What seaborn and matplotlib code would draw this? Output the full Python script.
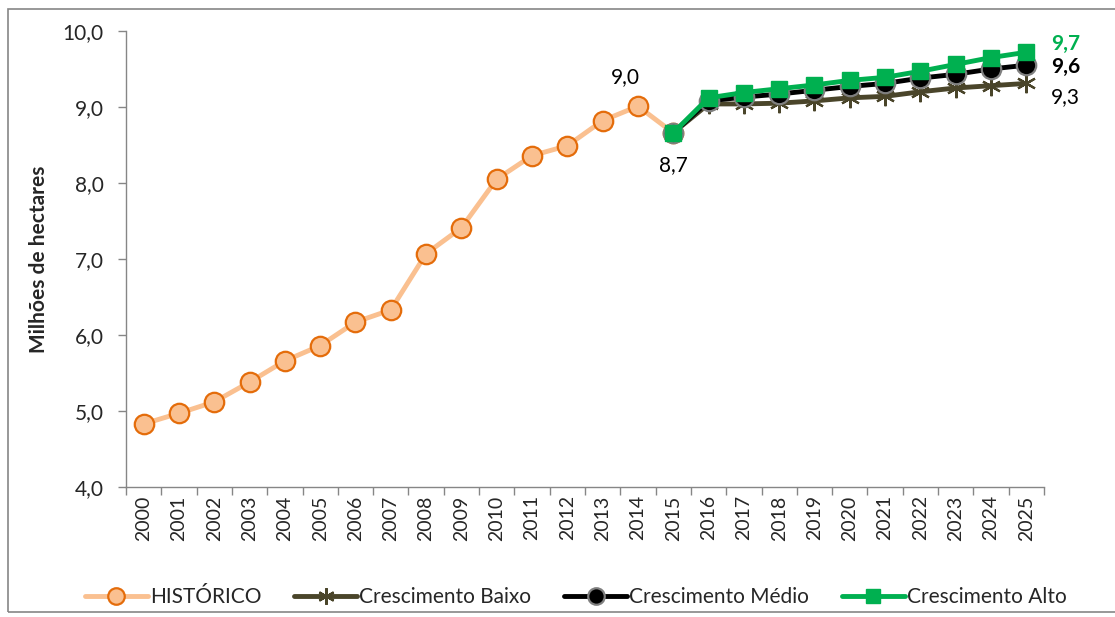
import matplotlib
matplotlib.use("Agg")
import matplotlib.pyplot as plt
import seaborn as sns
import pandas as pd
from matplotlib.patches import Rectangle

sns.set_theme(style="white")
plt.rcParams["font.family"] = ["Lato", "DejaVu Sans"]

# Área (milhões de hectares)
anos_hist = list(range(2000, 2016))
historico = [4.83, 4.97, 5.12, 5.38, 5.66, 5.86, 6.17, 6.33, 7.07, 7.41,
             8.05, 8.36, 8.49, 8.82, 9.01, 8.66]

anos_proj = list(range(2015, 2026))
cresc_baixo = [8.66, 9.04, 9.04, 9.05, 9.08, 9.12, 9.14, 9.20, 9.25, 9.28, 9.31]
cresc_medio = [8.66, 9.08, 9.13, 9.17, 9.22, 9.27, 9.31, 9.38, 9.43, 9.50, 9.55]
cresc_alto = [8.66, 9.12, 9.19, 9.24, 9.29, 9.35, 9.39, 9.47, 9.56, 9.65, 9.72]

anos_todos = list(range(2000, 2026))

df_hist = pd.DataFrame({"ano": anos_hist, "valor": historico})
df_baixo = pd.DataFrame({"ano": anos_proj, "valor": cresc_baixo})
df_medio = pd.DataFrame({"ano": anos_proj, "valor": cresc_medio})
df_alto = pd.DataFrame({"ano": anos_proj, "valor": cresc_alto})

fig = plt.figure(figsize=(11.15, 6.17), dpi=100)
ax = fig.add_axes([0.113, 0.2107, 0.8233, 0.7391])

c_hist = "#FAC090"
c_hist_edge = "#E46C0A"
c_baixo = "#4A452A"
c_medio = "#000000"
c_alto = "#00B050"

sns.lineplot(data=df_hist, x="ano", y="valor", ax=ax, color=c_hist, lw=3.5,
             marker="o", markersize=14, markerfacecolor=c_hist,
             markeredgecolor=c_hist_edge, markeredgewidth=1.6,
             label="HISTÓRICO", zorder=3)
sns.lineplot(data=df_baixo, x="ano", y="valor", ax=ax, color=c_baixo, lw=3.5,
             marker=(6, 2, 0), markersize=14, markeredgecolor=c_baixo,
             markeredgewidth=1.6, label="Crescimento Baixo", zorder=4)
sns.lineplot(data=df_medio, x="ano", y="valor", ax=ax, color=c_medio, lw=3.5,
             marker="o", markersize=14, markerfacecolor="#000000",
             markeredgecolor="#7F7F7F", markeredgewidth=1.6,
             label="Crescimento Médio", zorder=5)
sns.lineplot(data=df_alto, x="ano", y="valor", ax=ax, color=c_alto, lw=3.5,
             marker="s", markersize=12, markerfacecolor=c_alto,
             markeredgecolor=c_alto, markeredgewidth=1,
             label="Crescimento Alto", zorder=6)

# Rótulos de valores
def fmt(v):
    return f"{v:.1f}".replace(".", ",")

fs = 15
ax.annotate(fmt(historico[14]), (2014, historico[14]), xytext=(-9, 14),
            textcoords="offset points", ha="center", va="bottom", fontsize=fs,
            color="#000000")
ax.annotate(fmt(historico[15]), (2015, historico[15]), xytext=(0, -16),
            textcoords="offset points", ha="center", va="top", fontsize=fs,
            color="#000000")
ax.annotate(fmt(cresc_alto[-1]), (2025, cresc_alto[-1]), xytext=(18, 6),
            textcoords="offset points", ha="left", va="center", fontsize=fs,
            color=c_alto, fontweight="bold")
ax.annotate(fmt(cresc_medio[-1]), (2025, cresc_medio[-1]), xytext=(18, -1),
            textcoords="offset points", ha="left", va="center", fontsize=fs,
            color="#000000", fontweight="bold")
ax.annotate(fmt(cresc_baixo[-1]), (2025, cresc_baixo[-1]), xytext=(18, -10),
            textcoords="offset points", ha="left", va="center", fontsize=fs,
            color="#000000")

# Eixos
ax.set_xlim(1999.5, 2025.5)
ax.set_ylim(4, 10)
ax.set_yticks([4, 5, 6, 7, 8, 9, 10])
ax.set_yticklabels([fmt(v) for v in [4, 5, 6, 7, 8, 9, 10]], fontsize=fs)
ax.set_xticks(anos_todos)
ax.set_xticklabels([str(a) for a in anos_todos], rotation=90, fontsize=14)
ax.set_xticks([a - 0.5 for a in anos_todos] + [2025.5], minor=True)
ax.tick_params(axis="x", which="major", length=0, pad=6)
ax.tick_params(axis="x", which="minor", length=6, color="#868686", width=1,
               direction="out", bottom=True)
ax.tick_params(axis="y", length=6, color="#868686", width=1, direction="out",
               left=True, pad=10)
ax.set_xlabel("")
ax.set_ylabel("Milhões de hectares", fontsize=fs, fontweight="bold", labelpad=10)

for s in ["top", "right"]:
    ax.spines[s].set_visible(False)
for s in ["left", "bottom"]:
    ax.spines[s].set_color("#868686")
    ax.spines[s].set_linewidth(1)
ax.grid(False)

ax.legend(loc="center", bbox_to_anchor=(0.49, -0.241), ncol=4,
          frameon=False, fontsize=fs, handlelength=3.0, markerscale=0.85,
          columnspacing=1.6, handletextpad=0.1)

# Moldura do gráfico
fig.patches.append(Rectangle((0.007, 0.008), 1.2, 0.978, transform=fig.transFigure,
                             fill=False, edgecolor="#868686", lw=1.2,
                             figure=fig))

fig.savefig("out.png", dpi=100)
